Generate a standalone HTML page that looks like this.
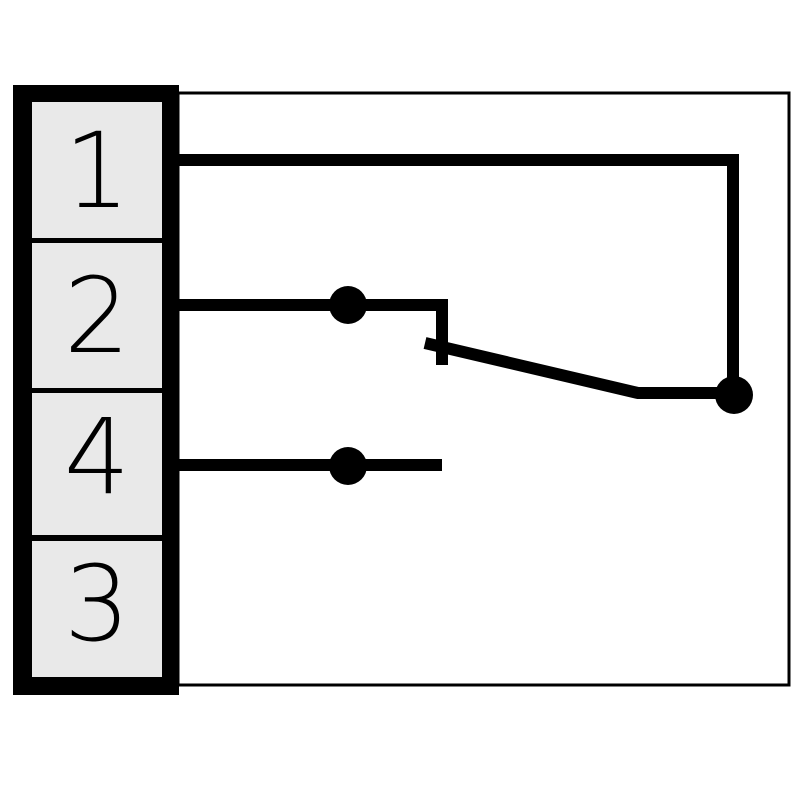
<!DOCTYPE html>
<html><head><style>body{margin:0;background:#fff}</style></head><body>
<svg width="800" height="800" viewBox="0 0 800 800" xmlns="http://www.w3.org/2000/svg">
<rect x="178" y="93" width="611" height="592" fill="none" stroke="#000" stroke-width="3"/>
<rect x="13" y="85" width="166" height="610" fill="#000"/>
<rect x="32" y="102" width="130" height="136" fill="#e9e9e9"/>
<rect x="32" y="243" width="130" height="145" fill="#e9e9e9"/>
<rect x="32" y="393" width="130" height="142" fill="#e9e9e9"/>
<rect x="32" y="541" width="130" height="136" fill="#e9e9e9"/>
<g font-family="DejaVu Sans, sans-serif" font-size="104" fill="#000" text-anchor="middle" font-weight="300">
<text x="97" y="207">1</text>
<text x="97" y="352">2</text>
<text x="97" y="493">4</text>
<text x="97" y="640">3</text>
</g>
<g stroke="#000" stroke-width="12" fill="none">
<polyline points="178,160 733,160 733,395"/>
<polyline points="178,305 442,305 442,365"/>
<polyline points="425,343 638,393 733,393"/>
<line x1="178" y1="465" x2="442" y2="465"/>
</g>
<g fill="#000">
<circle cx="348" cy="305" r="19"/>
<circle cx="348" cy="466" r="19"/>
<circle cx="734" cy="395" r="19"/>
</g>
</svg>
</body></html>
